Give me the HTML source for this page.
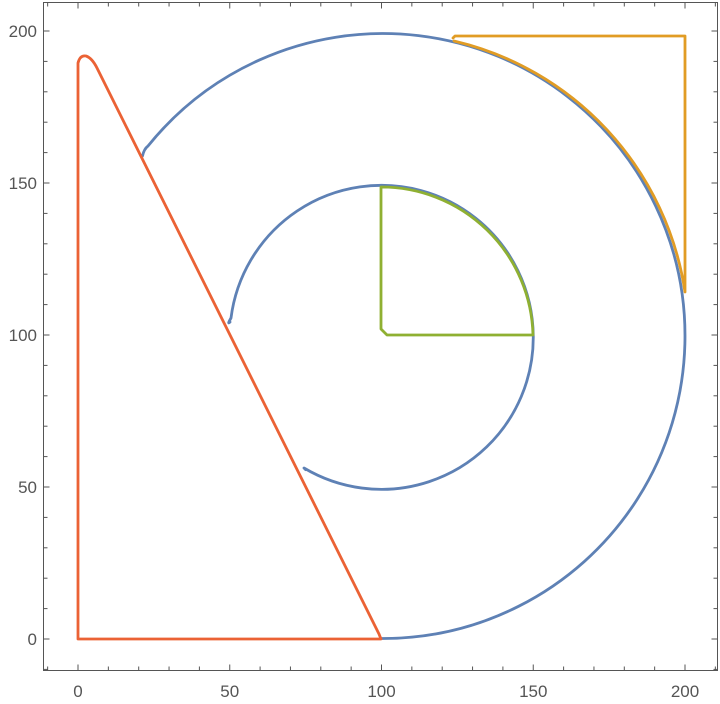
<!DOCTYPE html>
<html><head><style>html,body{margin:0;padding:0;background:#fff}svg{display:block}</style></head>
<body>
<svg id="s" width="720" height="704" xmlns="http://www.w3.org/2000/svg" font-family="Liberation Sans, sans-serif">
<g fill="none" stroke-width="2.8" stroke-linejoin="round" stroke-linecap="round">
<path stroke="#5E81B5" d="M142.5,156 Q144,149 148,146 A302,302.5 0 1 1 381.5,638.5"/>
<path stroke="#5E81B5" d="M305.6,469.6 L304,468 A151.75,152 0 1 0 231,318 Q227,325 230,322"/>
<path stroke="#E19C24" d="M453,38 L455,36 L685,36 L685,292 A303.5,304 0 0 0 454,41"/>
<path stroke="#8FB032" d="M381,187 L381,329 L387,335 L533,335 A151.75,152 0 0 0 381,187"/>
<path stroke="#EB6235" d="M78,639 L78,63 Q80,55 86,56 Q92,58 97,68 L379,634 L381,639 Z"/>
</g>
<g id="ax" stroke="#555" stroke-width="1" fill="none"><rect x="43.5" y="2.5" width="674" height="668"/></g>
<g id="lb" fill="#555" font-size="17" text-anchor="middle"></g>
</svg>
<script>
var ax=document.getElementById('ax'),lb=document.getElementById('lb'),ns='http://www.w3.org/2000/svg';
function ln(x1,y1,x2,y2){var l=document.createElementNS(ns,'line');l.setAttribute('x1',x1);l.setAttribute('y1',y1);l.setAttribute('x2',x2);l.setAttribute('y2',y2);ax.appendChild(l);}
function tx(x,y,t,a){var e=document.createElementNS(ns,'text');e.setAttribute('x',x);e.setAttribute('y',y);if(a)e.setAttribute('text-anchor',a);e.textContent=t;lb.appendChild(e);}
for(var u=-10;u<=210;u+=10){var X=78+3.035*u,maj=u%50==0,L=maj?6:4;ln(X,670.5,X,670.5-L);ln(X,2.5,X,2.5+L);if(maj&&u>=0&&u<=200)tx(X,697,u);}
for(var v=-10;v<=210;v+=10){var Y=639-3.04*v,maj=v%50==0,L=maj?6:4;if(Y<2||Y>671)continue;ln(43.5,Y,43.5+L,Y);ln(717.5,Y,717.5-L,Y);if(maj&&v>=0&&v<=200)tx(37,Y+6,v,'end');}
</script>
</body></html>
